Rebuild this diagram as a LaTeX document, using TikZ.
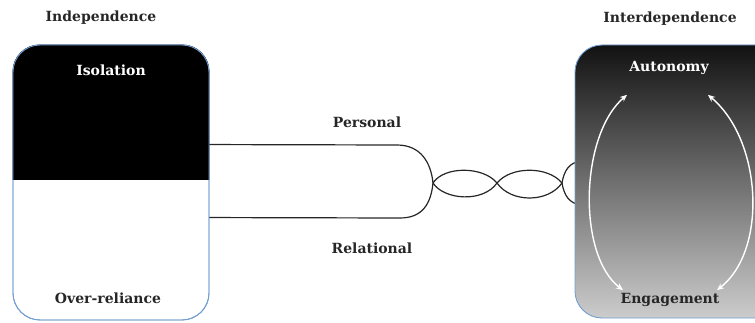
\documentclass[tikz,border=0pt]{standalone}
\usepackage{fontspec}
\setmainfont{DejaVu Serif}
\usetikzlibrary{positioning, arrows.meta, calc}
\definecolor{boxblue}{RGB}{115,158,208}
\begin{document}
\begin{tikzpicture}[x=1pt, y=-1pt, font=\bfseries\fontsize{14}{16}\selectfont,
		lbl/.style={inner sep=0pt, text=black!85},
		strand/.style={black!85, line width=1.2pt},
		frame/.style={draw=boxblue, line width=0.9pt, rounded corners=27pt, inner sep=0pt},
		twoway/.style={white, line width=1.4pt, {Stealth[length=7pt, width=6pt]}-{Stealth[length=7pt, width=6pt]}}]
	\useasboundingbox (0,0) rectangle (755,323);
	\node[frame, minimum width=196pt, minimum height=275pt] (left) at (111,182.5) {};
	\begin{scope}
		\clip (0,0) rectangle (755,180);
		\fill[black, rounded corners=27pt] (left.north west) rectangle (left.south east);
	\end{scope}
	\node[frame, minimum width=196pt, minimum height=275pt] at (111,182.5) {};
	\coordinate (p0) at ($(left.north east)+(0,100)$);
	\coordinate (r0) at ($(left.north east)+(0,173)$);
	\coordinate (x1) at (433,183);
	\coordinate (x2) at (497,183);
	\coordinate (x3) at (562,183);
	\draw[strand] (p0) -- (397,145) .. controls (421,145) and (431,163) .. (x1)
		.. controls (444,200) and (483,203) .. (x2)
		.. controls (511,166) and (548,166) .. (x3)
		.. controls (564,195) and (569,204) .. (582,205);
	\draw[strand] (r0) -- (400,218) .. controls (423,218) and (431,203) .. (x1)
		.. controls (444,166) and (483,166) .. (x2)
		.. controls (511,203) and (548,203) .. (x3)
		.. controls (564,171) and (569,162) .. (582,161);
	\node[lbl] (personal) at (367,122) {Personal};
	\node[lbl] (relational) at (372,248) {Relational};
	\node[frame, top color=black!93, bottom color=black!20, minimum width=215pt, minimum height=273pt] (right) at (682.5,181.5) {};
	\node[lbl] (indep) at (101,18) {Independence};
	\node[lbl] (interdep) at (670,19) {Interdependence};
	\node[lbl, text=white] (iso) at (111,70) {Isolation};
	\node[lbl] (over) at (108,298) {Over-reliance};
	\node[lbl, text=white] (auto) at (669,68) {Autonomy};
	\node[lbl] (engage) at (670,300) {Engagement};
	\draw[twoway] ($(auto.south)+(-42,20)$) .. controls (580,135) and (577,255) .. ($(engage.north)+(-47,-3)$);
	\draw[twoway] ($(auto.south)+(39,20)$) .. controls (762,140) and (768,250) .. ($(engage.north)+(47,-3)$);
\end{tikzpicture}
\end{document}
